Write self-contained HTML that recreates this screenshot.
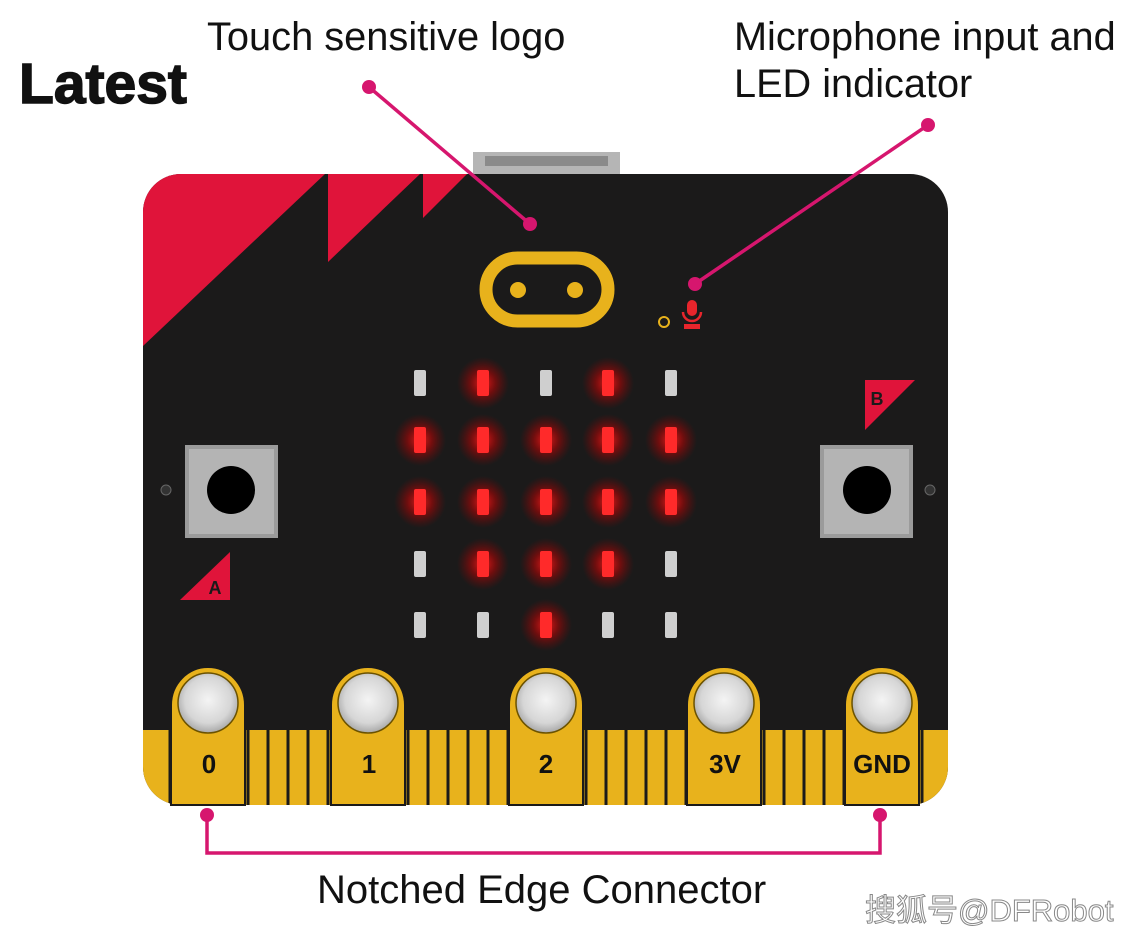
<!DOCTYPE html><html><head><style>body{margin:0;background:#fff}svg{display:block}</style></head><body>
<svg width="1144" height="944" viewBox="0 0 1144 944" xmlns="http://www.w3.org/2000/svg" font-family="Liberation Sans, sans-serif">
<defs>
<radialGradient id="hole" cx="50%" cy="45%" r="55%"><stop offset="0" stop-color="#f4f4f4"/><stop offset="0.7" stop-color="#d6d6d6"/><stop offset="1" stop-color="#a8a8a8"/></radialGradient>
<radialGradient id="glow"><stop offset="0" stop-color="#ff2020" stop-opacity="0.9"/><stop offset="0.5" stop-color="#d00000" stop-opacity="0.45"/><stop offset="1" stop-color="#900" stop-opacity="0"/></radialGradient>
<clipPath id="board"><rect x="143" y="174" width="805" height="631" rx="38"/></clipPath>
</defs>
<text x="207" y="50" font-size="39.8" fill="#111">Touch sensitive logo</text>
<text x="734" y="50" font-size="39.7" fill="#111">Microphone input and</text>
<text x="734" y="97" font-size="39.7" fill="#111">LED indicator</text>
<text x="19" y="103" font-size="57" font-weight="bold" fill="#111" stroke="#111" stroke-width="1.5">Latest</text>
<rect x="473" y="152" width="147" height="26" fill="#b5b5b5"/><rect x="485" y="156" width="123" height="10" fill="#8a8a8a"/>
<g clip-path="url(#board)">
<rect x="143" y="174" width="805" height="631" fill="#1b1a1a"/>
<polygon points="143,174 325,174 143,346" fill="#e0143a"/>
<polygon points="328,174 420,174 328,262" fill="#e0143a"/>
<polygon points="423,174 467,174 423,218" fill="#e0143a"/>
<rect x="143" y="730" width="805" height="75" fill="#e8b21c"/>
<g stroke="#1b1a1a" stroke-width="3">
<line x1="170" y1="730" x2="170" y2="805"/>
<line x1="248" y1="730" x2="248" y2="805"/><line x1="268" y1="730" x2="268" y2="805"/><line x1="288" y1="730" x2="288" y2="805"/><line x1="308" y1="730" x2="308" y2="805"/><line x1="328" y1="730" x2="328" y2="805"/>
<line x1="408" y1="730" x2="408" y2="805"/><line x1="428" y1="730" x2="428" y2="805"/><line x1="448" y1="730" x2="448" y2="805"/><line x1="468" y1="730" x2="468" y2="805"/><line x1="488" y1="730" x2="488" y2="805"/><line x1="508" y1="730" x2="508" y2="805"/>
<line x1="586" y1="730" x2="586" y2="805"/><line x1="606" y1="730" x2="606" y2="805"/><line x1="626" y1="730" x2="626" y2="805"/><line x1="646" y1="730" x2="646" y2="805"/><line x1="666" y1="730" x2="666" y2="805"/><line x1="686" y1="730" x2="686" y2="805"/>
<line x1="764" y1="730" x2="764" y2="805"/><line x1="784" y1="730" x2="784" y2="805"/><line x1="804" y1="730" x2="804" y2="805"/><line x1="824" y1="730" x2="824" y2="805"/><line x1="844" y1="730" x2="844" y2="805"/>
<line x1="922" y1="730" x2="922" y2="805"/>
</g>
</g>
<g fill="#e8b21c" stroke="#1b1a1a" stroke-width="2">
<path d="M171,805 V705 A37,38 0 0 1 245,705 V805 Z"/>
<path d="M331,805 V705 A37,38 0 0 1 405,705 V805 Z"/>
<path d="M509,805 V705 A37,38 0 0 1 583,705 V805 Z"/>
<path d="M687,805 V705 A37,38 0 0 1 761,705 V805 Z"/>
<path d="M845,805 V705 A37,38 0 0 1 919,705 V805 Z"/>
</g>
<g fill="url(#hole)" stroke="#6b5200" stroke-width="1.5">
<circle cx="208" cy="703" r="30"/><circle cx="368" cy="703" r="30"/><circle cx="546" cy="703" r="30"/><circle cx="724" cy="703" r="30"/><circle cx="882" cy="703" r="30"/>
</g>
<g font-size="26" font-weight="bold" fill="#111" text-anchor="middle">
<text x="209" y="773">0</text><text x="369" y="773">1</text><text x="546" y="773">2</text><text x="725" y="773">3V</text><text x="882" y="773">GND</text>
</g>
<rect x="486" y="258" width="122" height="63" rx="31.5" fill="none" stroke="#e8b21c" stroke-width="13"/>
<circle cx="518" cy="290" r="8" fill="#e8b21c"/><circle cx="575" cy="290" r="8" fill="#e8b21c"/>
<circle cx="664" cy="322" r="5" fill="none" stroke="#e8b21c" stroke-width="2"/>
<rect x="687" y="300" width="10" height="16" rx="5" fill="#e8252c"/><path d="M683,312 a9,9 0 0 0 18,0" fill="none" stroke="#e8252c" stroke-width="2.5"/><rect x="684" y="324" width="16" height="5" fill="#e8252c"/>
<rect x="185" y="445" width="93" height="93" fill="#9b9b9b"/><rect x="189" y="449" width="85" height="85" fill="#b4b4b4"/><circle cx="231" cy="490" r="24" fill="#000"/>
<rect x="820" y="445" width="93" height="93" fill="#9b9b9b"/><rect x="824" y="449" width="85" height="85" fill="#b4b4b4"/><circle cx="867" cy="490" r="24" fill="#000"/>
<circle cx="166" cy="490" r="5" fill="#333" stroke="#666"/><circle cx="930" cy="490" r="5" fill="#333" stroke="#666"/>
<polygon points="180,600 230,552 230,600" fill="#e0143a"/><text x="215" y="594" font-size="18" font-weight="bold" fill="#1b1a1a" text-anchor="middle">A</text>
<polygon points="865,380 915,380 865,430" fill="#e0143a"/><text x="877" y="405" font-size="18" font-weight="bold" fill="#1b1a1a" text-anchor="middle">B</text>
<g fill="url(#glow)">
<circle cx="483" cy="383" r="26"/><circle cx="608" cy="383" r="26"/>
<circle cx="420" cy="440" r="26"/><circle cx="483" cy="440" r="26"/><circle cx="546" cy="440" r="26"/><circle cx="608" cy="440" r="26"/><circle cx="671" cy="440" r="26"/>
<circle cx="420" cy="502" r="26"/><circle cx="483" cy="502" r="26"/><circle cx="546" cy="502" r="26"/><circle cx="608" cy="502" r="26"/><circle cx="671" cy="502" r="26"/>
<circle cx="483" cy="564" r="26"/><circle cx="546" cy="564" r="26"/><circle cx="608" cy="564" r="26"/>
<circle cx="546" cy="625" r="26"/>
</g>
<g fill="#ff2a2a">
<rect x="477" y="370" width="12" height="26" rx="2"/><rect x="602" y="370" width="12" height="26" rx="2"/>
<rect x="414" y="427" width="12" height="26" rx="2"/><rect x="477" y="427" width="12" height="26" rx="2"/><rect x="540" y="427" width="12" height="26" rx="2"/><rect x="602" y="427" width="12" height="26" rx="2"/><rect x="665" y="427" width="12" height="26" rx="2"/>
<rect x="414" y="489" width="12" height="26" rx="2"/><rect x="477" y="489" width="12" height="26" rx="2"/><rect x="540" y="489" width="12" height="26" rx="2"/><rect x="602" y="489" width="12" height="26" rx="2"/><rect x="665" y="489" width="12" height="26" rx="2"/>
<rect x="477" y="551" width="12" height="26" rx="2"/><rect x="540" y="551" width="12" height="26" rx="2"/><rect x="602" y="551" width="12" height="26" rx="2"/>
<rect x="540" y="612" width="12" height="26" rx="2"/>
</g>
<g fill="#cfcfcf">
<rect x="414" y="370" width="12" height="26" rx="2"/><rect x="540" y="370" width="12" height="26" rx="2"/><rect x="665" y="370" width="12" height="26" rx="2"/>
<rect x="414" y="551" width="12" height="26" rx="2"/><rect x="665" y="551" width="12" height="26" rx="2"/>
<rect x="414" y="612" width="12" height="26" rx="2"/><rect x="477" y="612" width="12" height="26" rx="2"/><rect x="602" y="612" width="12" height="26" rx="2"/><rect x="665" y="612" width="12" height="26" rx="2"/>
</g>
<g stroke="#d6166e" stroke-width="3.5" fill="none">
<line x1="369" y1="87" x2="530" y2="224"/>
<line x1="928" y1="125" x2="695" y2="284"/>
<polyline points="207,815 207,853 880,853 880,815"/>
</g>
<g fill="#d6166e">
<circle cx="369" cy="87" r="7"/><circle cx="530" cy="224" r="7"/><circle cx="928" cy="125" r="7"/><circle cx="695" cy="284" r="7"/><circle cx="207" cy="815" r="7"/><circle cx="880" cy="815" r="7"/>
</g>
<text x="317" y="903" font-size="40" fill="#111">Notched Edge Connector</text>
<text x="865" y="921" font-size="31" fill="#fff" stroke="#888" stroke-width="1" font-family="Liberation Sans, Noto Sans CJK SC, sans-serif">搜狐号@DFRobot</text>
</svg>
</body></html>
